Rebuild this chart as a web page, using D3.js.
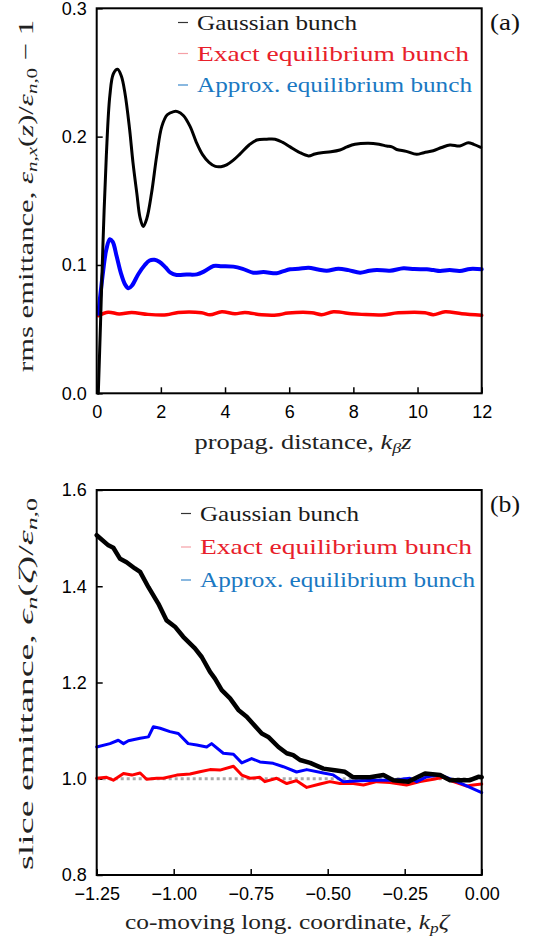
<!DOCTYPE html>
<html><head><meta charset="utf-8">
<script src="https://cdn.jsdelivr.net/npm/d3@7"></script>
<style>
html,body{margin:0;padding:0;background:#fff;}
svg{display:block;}
.tick text{font-family:"Liberation Sans",Arial,sans-serif;font-size:18px;fill:#000;}
.ttl{font-family:"Liberation Serif","Times New Roman",Times,serif;font-size:22px;}
</style></head><body>
<svg id="c" width="540" height="938"></svg>
<script>
// ---------- DATA ----------
// Panel (a): rms emittance growth vs propagation distance k_beta z
const aGaussian = [[0.05,0],[0.12,0.055],[0.2,0.12],[0.3,0.185],[0.41,0.232],[0.52,0.249],[0.65,0.2525],[0.77,0.247],[0.88,0.234],[1.02,0.207],[1.13,0.18],[1.25,0.156],[1.35,0.137],[1.45,0.130],[1.56,0.136],[1.71,0.156],[1.87,0.185],[2.03,0.208],[2.2,0.217],[2.4,0.2195],[2.52,0.2195],[2.7,0.2165],[2.91,0.208],[3.1,0.196],[3.3,0.186],[3.5,0.18],[3.7,0.1768],[3.87,0.1766],[4.05,0.178],[4.25,0.1815],[4.47,0.1866],[4.75,0.1935],[4.99,0.1974],[5.3,0.198],[5.56,0.198],[5.8,0.1955],[6.03,0.192],[6.3,0.188],[6.6,0.185],[6.8,0.1865],[7.01,0.1875],[7.3,0.1882],[7.58,0.1896],[7.8,0.192],[8.05,0.194],[8.47,0.1948],[8.8,0.194],[9.04,0.1927],[9.2,0.192],[9.35,0.190],[9.65,0.1885],[9.97,0.1862],[10.2,0.1875],[10.49,0.189],[10.75,0.1915],[11.01,0.1935],[11.32,0.1927],[11.58,0.1953],[11.75,0.194],[11.97,0.1917]];
const aExact = [[0.05,0.0605],[0.36,0.0632],[0.7,0.0618],[1.09,0.063],[1.6,0.0615],[2.18,0.0612],[2.54,0.063],[3.27,0.0628],[3.53,0.0612],[3.9,0.0635],[4.31,0.062],[4.62,0.063],[5.14,0.0612],[5.61,0.061],[5.97,0.0625],[6.7,0.0628],[7.01,0.0613],[7.38,0.0635],[7.95,0.062],[8.26,0.0615],[8.88,0.061],[9.4,0.0627],[10.23,0.0628],[10.49,0.0613],[10.86,0.0635],[11.38,0.062],[12.0,0.0608]];
const aApprox = [[0.05,0.062],[0.2,0.095],[0.3,0.112],[0.41,0.12],[0.5,0.118],[0.62,0.107],[0.75,0.094],[0.88,0.085],[0.99,0.0818],[1.1,0.084],[1.3,0.093],[1.5,0.1],[1.65,0.1035],[1.8,0.104],[1.95,0.1025],[2.15,0.098],[2.3,0.094],[2.49,0.0922],[2.8,0.0925],[3.12,0.0927],[3.35,0.095],[3.64,0.0992],[3.9,0.099],[4.26,0.0987],[4.55,0.097],[4.88,0.094],[5.2,0.0945],[5.61,0.0935],[5.8,0.095],[6.03,0.0966],[6.3,0.097],[6.6,0.0979],[6.9,0.0965],[7.17,0.0955],[7.53,0.0971],[7.85,0.096],[8.21,0.094],[8.5,0.0955],[8.73,0.0961],[9.14,0.0955],[9.56,0.0974],[9.9,0.0968],[10.29,0.0966],[10.5,0.096],[10.7,0.0953],[11.0,0.096],[11.32,0.0953],[11.64,0.0969],[12.0,0.0966]];
const aXTicks = [0,2,4,6,8,10,12];
const aYTicks = [0.0,0.1,0.2,0.3];

// Panel (b): slice emittance vs co-moving coordinate k_p zeta
const bGaussian = [[-1.25,1.506],[-1.212,1.485],[-1.196,1.48],[-1.174,1.457],[-1.153,1.45],[-1.126,1.437],[-1.109,1.43],[-1.082,1.398],[-1.05,1.364],[-1.023,1.329],[-0.996,1.316],[-0.969,1.295],[-0.931,1.271],[-0.909,1.253],[-0.882,1.222],[-0.866,1.208],[-0.844,1.184],[-0.817,1.167],[-0.79,1.143],[-0.763,1.129],[-0.714,1.094],[-0.693,1.087],[-0.66,1.066],[-0.633,1.053],[-0.612,1.049],[-0.59,1.039],[-0.557,1.033],[-0.514,1.021],[-0.471,1.017],[-0.444,1.0145],[-0.417,1.003],[-0.363,1.003],[-0.319,1.0076],[-0.287,0.997],[-0.238,0.994],[-0.184,1.011],[-0.135,1.0076],[-0.103,0.997],[-0.038,0.997],[-0.011,1.004],[0,1.003]];
const bExact = [[-1.25,1.001],[-1.218,1.003],[-1.196,0.997],[-1.163,1.011],[-1.136,1.0076],[-1.109,1.012],[-1.088,0.999],[-1.055,1.001],[-1.034,1.001],[-0.99,1.0076],[-0.947,1.0097],[-0.915,1.0145],[-0.882,1.019],[-0.85,1.018],[-0.806,1.026],[-0.779,1.0076],[-0.752,1.001],[-0.72,1.003],[-0.704,0.994],[-0.666,1.001],[-0.633,0.99],[-0.601,0.996],[-0.568,0.982],[-0.525,0.989],[-0.493,0.994],[-0.46,0.99],[-0.417,0.99],[-0.384,0.987],[-0.341,0.994],[-0.298,0.992],[-0.244,0.987],[-0.2,0.994],[-0.157,0.999],[-0.125,1.003],[-0.092,0.994],[-0.049,0.985],[-0.027,0.987],[0,0.989]];
const bApprox = [[-1.25,1.066],[-1.207,1.073],[-1.18,1.08],[-1.163,1.073],[-1.147,1.079],[-1.109,1.084],[-1.082,1.087],[-1.066,1.108],[-1.044,1.105],[-1.012,1.098],[-0.985,1.094],[-0.953,1.073],[-0.925,1.07],[-0.893,1.066],[-0.877,1.073],[-0.839,1.053],[-0.806,1.051],[-0.779,1.033],[-0.747,1.042],[-0.72,1.035],[-0.677,1.032],[-0.644,1.025],[-0.601,1.014],[-0.568,1.019],[-0.514,1.012],[-0.482,1.008],[-0.449,0.994],[-0.395,0.996],[-0.341,0.997],[-0.287,0.997],[-0.233,1.001],[-0.211,0.994],[-0.179,1.004],[-0.135,1.008],[-0.092,0.997],[-0.049,0.985],[0,0.971]];
const bReference = [[-1.25,1.0],[0,1.0]];
const bXTicks = [-1.25,-1.00,-0.75,-0.50,-0.25,0.00];
const bYTicks = [0.8,1.0,1.2,1.4,1.6];

const legendLabels = ["Gaussian bunch","Exact equilibrium bunch","Approx. equilibrium bunch"];

// ---------- DRAW ----------
const svg = d3.select("#c");
const L = 96.7, R = 481.7;

function panel(cfg){
  const x = d3.scaleLinear().domain(cfg.xd).range([L,R]);
  const y = d3.scaleLinear().domain(cfg.yd).range([cfg.bottom,cfg.top]);
  const g = svg.append("g");
  const xa = g.append("g").attr("transform",`translate(0,${cfg.bottom})`)
    .call(d3.axisBottom(x).tickValues(cfg.xt).tickFormat(cfg.xf).tickSizeInner(-6).tickSizeOuter(0).tickPadding(12));
  const ya = g.append("g").attr("transform",`translate(${L},0)`)
    .call(d3.axisLeft(y).tickValues(cfg.yt).tickFormat(cfg.yf).tickSizeInner(-6).tickSizeOuter(0).tickPadding(10));
  [xa,ya].forEach(a=>{a.select(".domain").remove();a.selectAll("line").attr("stroke","#000").attr("stroke-width",1.5);a.attr("font-size",null).attr("font-family",null);});
  if(cfg.ref){
    g.append("path").datum(cfg.ref).attr("fill","none").attr("stroke","#aaa").attr("stroke-width",3).attr("stroke-dasharray","3,3")
      .attr("d",d3.line().x(d=>x(d[0])).y(d=>y(d[1])));
  }
  const line = d3.line().x(d=>x(d[0])).y(d=>y(d[1])).curve(cfg.curve);
  cfg.series.forEach(s=>{
    g.append("path").datum(s.data).attr("fill","none").attr("stroke",s.color).attr("stroke-width",s.w)
      .attr("stroke-linejoin","round").attr("stroke-linecap","round").attr("d",line);
  });
  g.append("rect").attr("x",L).attr("y",cfg.top).attr("width",R-L).attr("height",cfg.bottom-cfg.top)
    .attr("fill","none").attr("stroke","#000").attr("stroke-width",2);
  // legend
  const lc = [["#1a1a1a","#333"],["#e8202a","#f5a0a6"],["#1a78c2","#3a88cc"]];
  legendLabels.forEach((t,i)=>{
    const cy = cfg.legY[i];
    g.append("line").attr("x1",cfg.legX-19).attr("x2",cfg.legX-9).attr("y1",cy).attr("y2",cy)
      .attr("stroke",lc[i][1]).attr("stroke-width",1.2);
    g.append("text").attr("class","ttl").attr("x",cfg.legX).attr("y",cy+7).style("fill",lc[i][0])
      .attr("textLength",cfg.legW[i]).attr("lengthAdjust","spacingAndGlyphs").text(t);
  });
  g.append("text").attr("class","ttl").attr("x",490).attr("y",cfg.tagY).style("fill","#111")
    .style("font-size","24px").attr("textLength",30).attr("lengthAdjust","spacingAndGlyphs").text(cfg.tag);
  return g;
}

const curveA = d3.curveCatmullRom.alpha(0.5);
const ga = panel({xd:[0,12],yd:[0,0.3],top:8.3,bottom:393.3,xt:aXTicks,yt:aYTicks,
  xf:d3.format("d"),yf:d3.format(".1f"),curve:curveA,
  series:[{data:aExact,color:"#ff0000",w:3.5},{data:aApprox,color:"#0000ff",w:4},{data:aGaussian,color:"#000",w:3}],
  legX:197,legY:[22.5,53.5,85],legW:[160,272,275],tag:"(a)",tagY:30});
const gb = panel({xd:[-1.25,0],yd:[0.8,1.6],top:490,bottom:875,xt:bXTicks,yt:bYTicks,
  xf:d3.format(".2f"),yf:d3.format(".1f"),curve:d3.curveLinear,ref:bReference,
  series:[{data:bExact,color:"#ff0000",w:3},{data:bApprox,color:"#0000ff",w:3},{data:bGaussian,color:"#000",w:4.5}],
  legX:200,legY:[513.5,547,580],legW:[159,272,275],tag:"(b)",tagY:511.5});

function addParts(t, parts){
  parts.forEach(p=>{
    const s = t.append("tspan").text(p[0]);
    if(p[1]==="i") s.style("font-style","italic");
    if(p[1]==="sub") s.style("font-style","italic").style("font-size","15px").attr("baseline-shift","-25%");
    if(p[1]==="subr") s.style("font-size","15px").attr("baseline-shift","-25%");
  });
}
// x titles
function addX(g, parts, cx, by, w){
  const t = g.append("text").attr("class","ttl").style("fill","#222").attr("x",cx).attr("y",by).attr("text-anchor","middle")
    .attr("textLength",w).attr("lengthAdjust","spacingAndGlyphs");
  addParts(t, parts);
}
addX(ga,[["propag. distance, "],["k","i"],["β","sub"],["z","i"]],303,449,217);
addX(gb,[["co-moving long. coordinate, "],["k","i"],["p","sub"],["ζ","i"]],287,929,324);

// y titles
function addY(g, parts, cx, cy, w){
  const t = g.append("text").attr("class","ttl").style("fill","#222").attr("transform",`translate(${cx},${cy}) rotate(-90)`)
    .attr("text-anchor","middle").attr("textLength",w).attr("lengthAdjust","spacingAndGlyphs");
  addParts(t, parts);
}
addY(ga,[["rms emittance, "],["ε","i"],["n,x","sub"],["("],["z","i"],[")/"],["ε","i"],["n,","sub"],["0","subr"],[" − 1"]],33,196,352);
addY(gb,[["slice emittance, "],["ϵ","i"],["n","sub"],["("],["ζ","i"],[")/"],["ε","i"],["n,","sub"],["0","subr"]],33,684,372);
</script>
</body></html>
